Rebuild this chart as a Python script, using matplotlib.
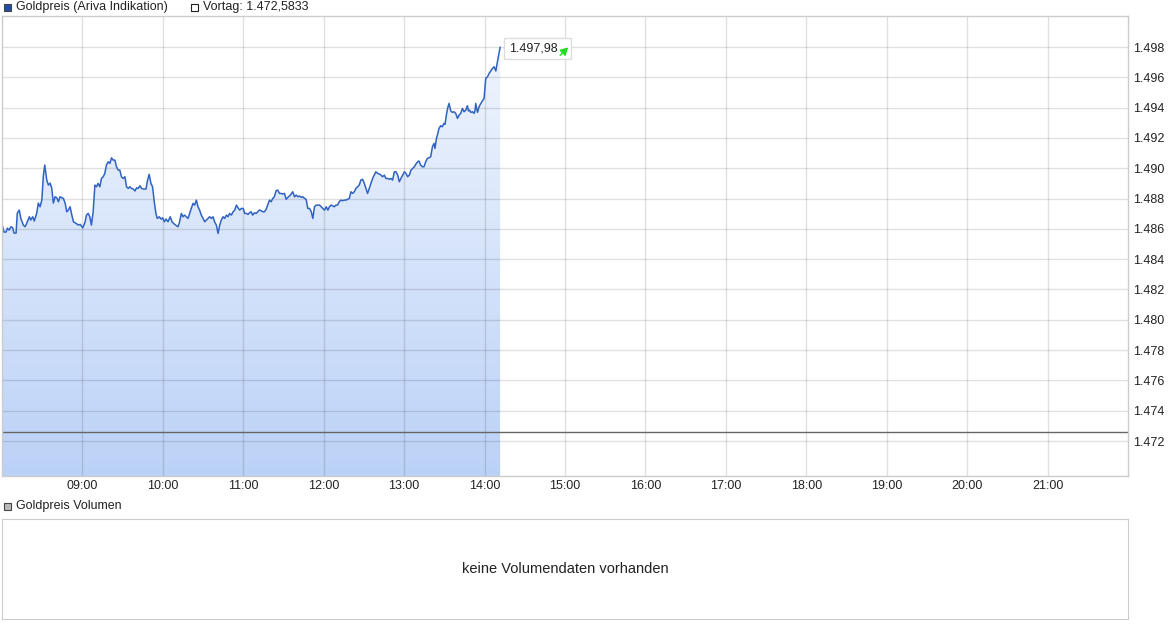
import numpy as np
import matplotlib
matplotlib.use("Agg")
import matplotlib.pyplot as plt
from matplotlib.patches import Rectangle, FancyArrowPatch
from matplotlib.transforms import IdentityTransform
from matplotlib.colors import LinearSegmentedColormap

plt.rcParams['font.family'] = ['Liberation Sans', 'DejaVu Sans']

# ---- data -------------------------------------------------------------
# minutes after 08:00
minutes = [0.5, 1.5, 3.0, 4.0, 5.2, 6.7, 8.0, 9.0, 10.5, 11.4, 12.9, 14.0, 15.9, 17.2, 18.5, 20.4, 21.4, 22.9, 24.1, 25.9,
           27.1, 28.4, 29.7, 30.9, 31.9, 33.4, 34.6, 35.9, 37.1, 38.3, 39.6, 40.9, 42.1, 43.3, 45.8, 47.1, 48.3, 49.5, 50.8, 52.1,
           53.3, 55.3, 57.0, 58.3, 60.3, 62.0,
           63.0, 64.3, 65.5, 66.7, 68.0, 69.3, 70.5, 71.7, 73.0, 74.2, 75.5, 76.7, 77.9, 79.2, 80.5, 81.7, 82.9, 84.2, 85.4, 86.7,
           87.9, 89.1, 90.4, 91.7, 92.9, 94.2, 95.4, 96.6, 97.9, 99.2, 100.4, 101.6, 102.9, 104.1, 105.4, 107.4, 108.6, 109.8, 111.1, 112.3,
           113.6, 114.8, 115.8, 117.3, 118.6, 119.8, 121.1, 122.3,
           123.8, 125.5, 126.8, 128.0, 129.5, 131.3, 132.5, 133.8, 135.0, 136.2, 137.5, 138.8, 140.0, 141.2, 142.5, 143.7, 145.0, 146.2, 147.4, 148.7,
           150.0, 151.2, 152.4, 153.7, 154.9, 156.2, 157.4, 158.6, 159.9, 161.2, 162.4, 163.6, 164.9, 166.1, 167.4, 168.6, 169.8, 171.1, 172.4, 173.6,
           174.9, 176.1, 177.3, 178.6, 179.9, 181.1, 182.3, 183.6,
           184.6, 185.8, 187.0, 188.3, 189.6, 190.8, 192.0, 193.3, 194.5, 195.8, 197.0, 198.2, 199.5, 200.8, 202.0, 203.2, 204.5, 205.7, 207.0, 208.2,
           209.4, 210.7, 212.0, 213.2, 214.5, 215.7, 216.9, 218.2, 219.5, 220.7, 221.9, 223.2, 224.4, 225.7, 226.9, 228.1, 229.4, 230.7, 231.9, 233.1,
           234.4, 235.6, 236.9, 238.1, 239.3, 240.6, 241.9, 243.1, 244.3, 245.6,
           247.9, 249.1, 250.3, 251.6, 252.8, 254.1, 255.3, 256.5, 257.8, 259.1, 260.3, 261.5, 262.8, 264.0, 265.3, 266.5, 267.7, 269.0, 270.3, 271.5,
           272.7, 274.0, 275.2, 276.5, 277.7, 278.9, 280.2, 281.5, 282.7, 283.9, 285.2, 286.4, 287.7, 288.9, 290.1, 291.4, 292.7, 293.9, 295.2, 296.4,
           297.6, 298.9, 300.2, 301.4, 302.6, 303.9, 305.1, 306.4, 307.6, 308.8, 310.1,
           311.1, 312.3, 313.6, 314.8, 316.1, 317.3, 318.5, 319.8, 321.1, 322.3, 323.0, 324.1, 324.8, 326.0, 327.3, 328.5, 329.7, 330.5, 331.5, 332.5,
           333.5, 334.8, 336.0, 337.2, 338.5, 339.8, 341.0, 342.2, 343.5, 344.7, 346.0, 347.2, 348.0, 348.9, 349.7, 351.0, 352.2, 352.9, 353.4, 354.7,
           355.9, 357.2, 358.4, 359.6, 360.9, 362.2, 363.4, 364.6, 365.9, 367.1, 368.4, 369.6, 370.8, 371.6]

prices = [1486.14, 1485.79, 1485.79, 1486.05, 1485.92, 1486.14, 1486.07, 1485.72, 1485.72, 1487.04, 1487.24, 1486.71, 1486.25, 1486.14, 1486.38, 1486.80, 1486.58, 1486.80, 1486.52, 1487.04,
          1487.70, 1487.46, 1487.90, 1489.55, 1490.21, 1489.22, 1488.89, 1489.02, 1488.69, 1487.70, 1488.12, 1488.05, 1487.79, 1488.12, 1488.01, 1487.70, 1487.13, 1487.24, 1487.46, 1486.91,
          1486.47, 1486.36, 1486.25, 1486.30, 1486.07, 1486.47,
          1486.91, 1487.02, 1486.80, 1486.25, 1487.13, 1488.89, 1488.78, 1489.00, 1488.78, 1489.33, 1489.44, 1489.66, 1490.21, 1490.43, 1490.32, 1490.69, 1490.54, 1490.54, 1490.10, 1489.88,
          1489.88, 1489.44, 1489.33, 1489.44, 1488.78, 1488.67, 1488.78, 1488.67, 1488.63, 1488.50, 1488.71, 1488.67, 1488.85, 1488.67, 1488.63, 1488.63, 1489.22, 1489.60, 1489.00, 1488.78,
          1487.79, 1487.02, 1486.69, 1486.80, 1486.65, 1486.73, 1486.47, 1486.65,
          1486.47, 1486.80, 1486.47, 1486.36, 1486.25, 1486.14, 1486.47, 1487.02, 1486.80, 1486.91, 1486.80, 1486.69, 1487.02, 1487.35, 1487.68, 1487.57, 1487.90, 1487.46, 1487.24, 1486.91,
          1486.69, 1486.47, 1486.58, 1486.69, 1486.80, 1486.69, 1486.80, 1486.47, 1486.25, 1485.70, 1486.25, 1486.58, 1486.80, 1486.69, 1486.91, 1486.80, 1487.02, 1486.91, 1487.13, 1487.24,
          1487.57, 1487.39, 1487.24, 1487.35, 1487.35, 1487.02, 1487.02, 1486.96,
          1487.06, 1487.13, 1486.91, 1487.06, 1487.02, 1487.13, 1487.24, 1487.20, 1487.13, 1487.13, 1487.29, 1487.57, 1487.90, 1487.79, 1488.01, 1488.12, 1488.52, 1488.56, 1488.34, 1488.34,
          1488.30, 1488.34, 1487.95, 1488.08, 1488.17, 1488.30, 1488.45, 1488.12, 1488.23, 1488.12, 1488.17, 1488.08, 1488.12, 1488.01, 1487.95, 1487.35, 1487.35, 1487.13, 1486.69, 1487.46,
          1487.57, 1487.57, 1487.57, 1487.46, 1487.35, 1487.24, 1487.46, 1487.24, 1487.46, 1487.57,
          1487.46, 1487.57, 1487.57, 1487.79, 1487.90, 1487.86, 1487.90, 1487.90, 1487.95, 1488.01, 1488.45, 1488.34, 1488.45, 1488.67, 1488.78, 1488.89, 1489.22, 1489.27, 1489.00, 1488.67,
          1488.34, 1488.67, 1489.00, 1489.33, 1489.55, 1489.77, 1489.66, 1489.62, 1489.55, 1489.44, 1489.55, 1489.33, 1489.33, 1489.27, 1489.33, 1489.22, 1489.77, 1489.77, 1489.55, 1489.11,
          1489.33, 1489.55, 1489.77, 1489.66, 1489.44, 1489.55, 1489.88, 1489.99, 1490.10, 1490.28, 1490.43,
          1490.48, 1490.21, 1490.10, 1490.10, 1490.43, 1490.65, 1490.69, 1490.76, 1491.42, 1491.64, 1491.31, 1491.97, 1492.19, 1492.63, 1492.81, 1492.74, 1492.96, 1492.90, 1493.51, 1493.99,
          1494.28, 1493.78, 1493.69, 1493.73, 1493.62, 1493.29, 1493.51, 1493.62, 1493.95, 1493.73, 1493.84, 1494.13, 1493.78, 1493.84, 1493.69, 1493.73, 1493.62, 1493.84, 1494.28, 1493.69,
          1494.06, 1494.28, 1494.44, 1494.61, 1495.93, 1496.04, 1496.26, 1496.42, 1496.59, 1496.70, 1496.42, 1497.03, 1497.58, 1497.98]

vortag = 1472.5833
hour_ticks = [9, 10, 11, 12, 13, 14, 15, 16, 17, 18, 19, 20, 21]
hour_labels = ["09:00", "10:00", "11:00", "12:00", "13:00", "14:00", "15:00",
               "16:00", "17:00", "18:00", "19:00", "20:00", "21:00"]
price_ticks = [1472, 1474, 1476, 1478, 1480, 1482, 1484, 1486, 1488, 1490, 1492, 1494, 1496, 1498]
legend_main = "Goldpreis (Ariva Indikation)"
legend_vortag = "Vortag: 1.472,5833"
legend_vol = "Goldpreis Volumen"
no_volume_text = "keine Volumendaten vorhanden"

# ---- figure -----------------------------------------------------------
W, H = 1175, 630
fig = plt.figure(figsize=(W / 100, H / 100), dpi=100)
fig.patch.set_facecolor("white")

def fx(px):
    return px / W

def fy(py):
    return 1 - py / H

ax = fig.add_axes([fx(2), fy(476), fx(1128) - fx(2), fy(16) - fy(476)])
hours = 8 + np.array(minutes) / 60.0
vals = np.array(prices)

ymin, ymax = 1469.69, 1500.05
ax.set_xlim(8, 22)
ax.set_ylim(ymin, ymax)

# gradient fill under the line
cmap = LinearSegmentedColormap.from_list("g", ["#bbd2f7", "#f3f7fe"])
grad = np.linspace(0, 1, 256).reshape(-1, 1)
im = ax.imshow(grad, cmap=cmap, origin="lower", aspect="auto",
               extent=[8, 22, ymin, ymax], zorder=1)
poly = ax.fill_between(hours, vals, ymin, facecolor="none", edgecolor="none", zorder=1)
im.set_clip_path(poly.get_paths()[0], transform=ax.transData)

ax.plot(hours, vals, color="#3063c0", lw=1.1, zorder=4, solid_joinstyle="round")
ax.axhline(vortag, color="#666666", lw=1.0, zorder=3)

# ticks and grid
ax.set_xticks(hour_ticks)
ax.set_xticklabels(hour_labels)
ax.set_yticks(price_ticks)
ax.set_yticklabels([f"{p:,}".replace(",", ".") for p in price_ticks])
ax.yaxis.tick_right()
ax.tick_params(axis="both", length=0, labelsize=9, labelcolor="#222222")
ax.tick_params(axis="y", pad=4)
ax.tick_params(axis="x", pad=3)
ax.set_axisbelow(False)
ax.grid(True, color="#000000", alpha=0.12, lw=1.0, zorder=2)
for s in ax.spines.values():
    s.set_color("#cccccc")
    s.set_linewidth(1.0)
    s.set_zorder(5)

# value label box
px, py = ax.transData.transform((hours[-1], vals[-1]))
box = Rectangle((px + 4, py - 12), 67, 21, transform=IdentityTransform(),
                facecolor="white", edgecolor="#dddddd", lw=1.0, zorder=10)
fig.add_artist(box)
val_text = f"{prices[-1]:,.2f}".replace(",", "X").replace(".", ",").replace("X", ".")
fig.text((px + 9) / W, (py - 1.5) / H, val_text, fontsize=9, ha="left", va="center",
         color="#222222", zorder=11)
arr = FancyArrowPatch((px + 60, py - 8), (px + 68, py + 0), transform=IdentityTransform(),
                      arrowstyle="-|>,head_length=0.45,head_width=0.25", mutation_scale=10,
                      shrinkA=0, shrinkB=0, color="#22dd22", lw=1.0, zorder=11)
fig.add_artist(arr)

# top legend
fig.add_artist(Rectangle((fx(4), fy(11)), fx(7), 7 / H, transform=fig.transFigure,
                         facecolor="#1f4fa8", edgecolor="#444444", lw=0.8))
fig.text(fx(16), fy(7), legend_main, fontsize=9, ha="left", va="center", color="#222222")
fig.add_artist(Rectangle((fx(191), fy(11)), fx(7), 7 / H, transform=fig.transFigure,
                         facecolor="white", edgecolor="#222222", lw=0.8))
fig.text(fx(203), fy(7), legend_vortag, fontsize=9, ha="left", va="center", color="#222222")

# volume panel
fig.add_artist(Rectangle((fx(4), fy(510)), fx(7), 7 / H, transform=fig.transFigure,
                         facecolor="#bbbbbb", edgecolor="#444444", lw=0.8))
fig.text(fx(16), fy(506.5), legend_vol, fontsize=9, ha="left", va="center", color="#222222")
vax = fig.add_axes([fx(2), fy(619), fx(1128) - fx(2), fy(519) - fy(619)])
vax.set_xticks([])
vax.set_yticks([])
for s in vax.spines.values():
    s.set_color("#cccccc")
vax.text(0.5, 0.5, no_volume_text, transform=vax.transAxes, ha="center", va="center",
         fontsize=10.5, color="#222222")

fig.savefig("out.png", dpi=100)
